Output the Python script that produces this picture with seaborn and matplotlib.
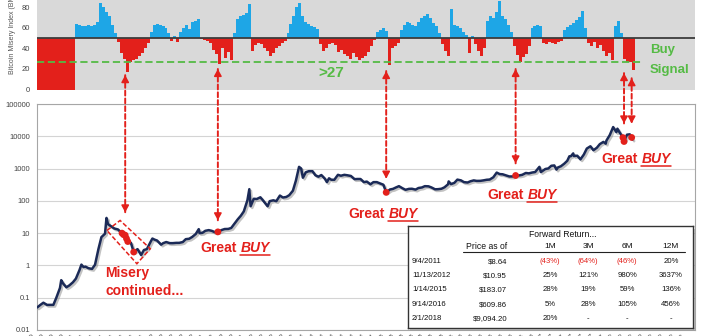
import numpy as np
import pandas as pd
import matplotlib
matplotlib.use("Agg")
import matplotlib.pyplot as plt
import matplotlib.dates as mdates
import matplotlib.patheffects as pe
from matplotlib.patches import ConnectionPatch, Polygon, Rectangle
from matplotlib.lines import Line2D
import seaborn as sns

# ---------------- data ----------------
bmi_pre_start = "2010-07-16"
bmi_pre_value = 0
bmi_first_date = "2011-01-12"
bmi_values = [
    64, 63, 62, 62, 63, 62, 63, 66, 84, 80,
    76, 72, 63, 55, 46, 36, 30, 17, 27, 29,
    30, 33, 36, 40, 45, 56, 63, 64, 63, 62,
    60, 55, 47, 52, 46, 56, 60, 63, 59, 66,
    67, 69, 49, 48, 47, 45, 39, 35, 25, 40,
    31, 37, 29, 55, 69, 72, 73, 75, 83, 38,
    43, 45, 44, 40, 38, 33, 36, 40, 42, 45,
    47, 55, 64, 72, 80, 84, 72, 66, 64, 62,
    61, 59, 44, 38, 40, 44, 45, 43, 37, 39,
    35, 33, 30, 36, 32, 29, 31, 33, 37, 42,
    48, 56, 58, 60, 57, 24, 40, 42, 45, 58,
    63, 66, 65, 63, 62, 66, 70, 72, 74, 70,
    65, 62, 55, 44, 38, 33, 79, 63, 62, 60,
    56, 53, 36, 52, 44, 38, 33, 40, 67, 72,
    70, 76, 86, 72, 69, 63, 56, 42, 34, 27,
    32, 35, 42, 60, 62, 63, 62, 45, 44, 46,
    45, 44, 46, 47, 58, 61, 63, 65, 68, 71,
    77, 60, 45, 42, 46, 40, 43, 38, 33, 36,
    29, 62, 67, 55, 30, 27, 27, 19,
]
bmi_threshold = 27
bmi_neutral = 50

price_dates = [
    "2010-07-17", "2010-08-01", "2010-08-15", "2010-09-01", "2010-09-15", "2010-10-01",
    "2010-10-15", "2010-11-01", "2010-11-07", "2010-11-15", "2010-12-01", "2010-12-15",
    "2011-01-01", "2011-01-15", "2011-02-01", "2011-02-10", "2011-02-20", "2011-03-01",
    "2011-03-15", "2011-04-01", "2011-04-15", "2011-05-01", "2011-05-15", "2011-06-01",
    "2011-06-08", "2011-06-15", "2011-07-01", "2011-07-15", "2011-08-01", "2011-08-20",
    "2011-08-27", "2011-09-04", "2011-09-10", "2011-09-16", "2011-10-01", "2011-10-14",
    "2011-11-01", "2011-11-18", "2011-12-01", "2011-12-15", "2012-01-01", "2012-01-10",
    "2012-01-20", "2012-02-01", "2012-02-20", "2012-03-01", "2012-03-15", "2012-04-01",
    "2012-04-15", "2012-05-01", "2012-05-15", "2012-06-01", "2012-06-15", "2012-07-01",
    "2012-07-15", "2012-08-01", "2012-08-15", "2012-08-19", "2012-09-01", "2012-09-15",
    "2012-10-01", "2012-10-15", "2012-11-01", "2012-11-13", "2012-12-01", "2012-12-15",
    "2013-01-01", "2013-01-15", "2013-02-01", "2013-02-15", "2013-03-01", "2013-03-15",
    "2013-04-01", "2013-04-10", "2013-04-16", "2013-05-01", "2013-05-15", "2013-06-01",
    "2013-06-15", "2013-07-05", "2013-07-15", "2013-08-01", "2013-08-15", "2013-09-01",
    "2013-09-15", "2013-10-01", "2013-10-15", "2013-11-01", "2013-11-15", "2013-11-30",
    "2013-12-10", "2013-12-18", "2014-01-01", "2014-01-15", "2014-02-01", "2014-02-15",
    "2014-03-01", "2014-03-15", "2014-04-01", "2014-04-10", "2014-04-20", "2014-05-01",
    "2014-05-15", "2014-06-01", "2014-06-15", "2014-07-01", "2014-07-15", "2014-08-01",
    "2014-08-18", "2014-09-01", "2014-09-15", "2014-10-01", "2014-10-15", "2014-11-01",
    "2014-11-15", "2014-12-01", "2014-12-15", "2015-01-01", "2015-01-14", "2015-02-01",
    "2015-02-15", "2015-03-01", "2015-03-15", "2015-04-01", "2015-04-15", "2015-05-01",
    "2015-05-15", "2015-06-01", "2015-06-15", "2015-07-01", "2015-07-15", "2015-08-01",
    "2015-08-15", "2015-09-01", "2015-09-15", "2015-10-01", "2015-10-15", "2015-11-01",
    "2015-11-04", "2015-11-15", "2015-12-01", "2015-12-15", "2016-01-01", "2016-01-15",
    "2016-02-01", "2016-02-15", "2016-03-01", "2016-03-15", "2016-04-01", "2016-04-15",
    "2016-05-01", "2016-05-15", "2016-06-01", "2016-06-17", "2016-07-01", "2016-07-15",
    "2016-08-01", "2016-08-15", "2016-09-01", "2016-09-14", "2016-10-01", "2016-10-15",
    "2016-11-01", "2016-11-15", "2016-12-01", "2016-12-15", "2017-01-04", "2017-01-11",
    "2017-02-01", "2017-02-15", "2017-03-01", "2017-03-15", "2017-03-25", "2017-04-01",
    "2017-04-15", "2017-05-01", "2017-05-15", "2017-05-25", "2017-06-01", "2017-06-12",
    "2017-06-15", "2017-07-01", "2017-07-16", "2017-08-01", "2017-08-15", "2017-09-01",
    "2017-09-15", "2017-10-01", "2017-10-15", "2017-11-01", "2017-11-12", "2017-11-15",
    "2017-12-01", "2017-12-17", "2018-01-01", "2018-01-06", "2018-01-15", "2018-02-01",
    "2018-02-06", "2018-02-20", "2018-03-05", "2018-03-14", "2018-03-18",
]
price_values = [
    0.05, 0.06, 0.07, 0.06, 0.06, 0.06,
    0.10, 0.20, 0.35, 0.28, 0.21, 0.24,
    0.30, 0.39, 0.72, 1.06, 0.89, 0.92,
    0.82, 0.78, 1.05, 3.2, 7.5, 9.6,
    29.6, 19.0, 16.0, 13.9, 13.0, 10.0,
    9.0, 8.64, 6.8, 5.5, 5.0, 2.6,
    3.2, 2.1, 3.0, 3.2, 5.3, 6.8,
    6.3, 5.9, 4.4, 4.9, 5.3, 4.9,
    4.9, 5.0, 5.0, 5.3, 6.5, 6.7,
    7.6, 9.4, 13.3, 10.0, 10.2, 11.8,
    12.4, 11.8, 10.6, 10.95, 12.5, 13.4,
    13.5, 14.5, 20.4, 27.0, 34.5, 47.0,
    104, 230, 68, 116, 114, 129,
    100, 68, 98, 104, 98, 146,
    127, 132, 150, 206, 420, 1130,
    1000, 520, 770, 830, 830, 620,
    560, 630, 480, 380, 500, 450,
    450, 640, 600, 640, 620, 590,
    470, 475, 475, 380, 395, 325,
    380, 380, 350, 315, 183.07, 225,
    235, 260, 285, 245, 220, 235,
    237, 223, 250, 260, 285, 282,
    260, 228, 230, 237, 262, 325,
    400, 330, 362, 455, 430, 380,
    370, 405, 430, 415, 417, 430,
    450, 457, 536, 750, 675, 665,
    610, 570, 570, 609.86, 614, 640,
    730, 710, 755, 780, 1130, 780,
    970, 1010, 1220, 1250, 930, 1080,
    1180, 1420, 1740, 2400, 2410, 2950,
    2450, 2500, 1930, 2720, 4170, 4900,
    3700, 4400, 5700, 6700, 5900, 7300,
    10900, 19300, 13400, 17200, 13600, 9094.2,
    6900, 11200, 11500, 9200, 7900,
]

dot_dates = ["2011-08-20", "2011-08-27", "2011-09-04", "2011-09-10", "2011-09-16",
             "2011-10-14", "2012-11-13", "2015-01-14", "2016-09-14", "2018-02-01",
             "2018-02-06", "2018-03-14"]
dot_prices = [10.0, 9.0, 8.64, 6.8, 5.5, 2.6, 10.95, 183.07, 609.86, 9094.2, 6900, 9200]

arrow_dates = ["2011-09-04", "2012-11-13", "2015-01-14", "2016-09-14", "2018-02-06", "2018-03-14"]
arrow_bmi_end = [14, 20, 18, 20, 16, 11]
arrow_price_end = [44, 25, 490, 1450, 25000, 25000]

misery_box_dates = ["2011-06-10", "2011-08-11", "2011-12-31", "2011-10-29"]
misery_box_prices = [12.1, 24.7, 3.29, 1.13]

price_ticks = [0.01, 0.1, 1, 10, 100, 1000, 10000, 100000]
price_tick_labels = ["0.01", "0.1", "1", "10", "100", "1000", "10000", "100000"]
bmi_ticks = [0, 20, 40, 60, 80]

tbl_dates = ["9/4/2011", "11/13/2012", "1/14/2015", "9/14/2016", "2/1/2018"]
tbl_prices = ["$8.64", "$10.95", "$183.07", "$609.86", "$9,094.20"]
tbl_1m = ["(43%)", "25%", "28%", "5%", "20%"]
tbl_3m = ["(64%)", "121%", "19%", "28%", "-"]
tbl_6m = ["(46%)", "980%", "59%", "105%", "-"]
tbl_12m = ["20%", "3637%", "136%", "456%", "-"]

# ---------------- style ----------------
sns.set_style("white")
plt.rcParams["font.family"] = ["Liberation Sans", "DejaVu Sans"]

RED = "#e3201b"
BLUE = "#1ea6e6"
GREEN = "#55bb45"
NAVY = "#1b2a57"
GREY_BG = "#d9d9d9"

W, H = 702, 336
fig = plt.figure(figsize=(W / 100, H / 100), dpi=100)


def fx(px):
    return px / W


def fy(py):
    return 1 - py / H


xmin, xmax = pd.Timestamp("2010-07-16"), pd.Timestamp("2019-01-06")

# ---------------- top panel: misery index ----------------
ax_top = fig.add_axes([fx(37), fy(89.5), fx(695) - fx(37), fy(0) - fy(89.5)])
ax_top.set_facecolor(GREY_BG)
bmi_dates = pd.date_range(bmi_first_date, periods=len(bmi_values), freq="14D")
x_b = [pd.Timestamp(bmi_pre_start)] + list(bmi_dates) + [bmi_dates[-1] + pd.Timedelta(days=14)]
y_b = np.array([bmi_pre_value] + bmi_values + [bmi_values[-1]], dtype=float)
ax_top.fill_between(x_b, bmi_neutral, np.minimum(y_b, bmi_neutral), step="post",
                    color=RED, lw=0, zorder=2)
ax_top.fill_between(x_b, bmi_neutral, np.maximum(y_b, bmi_neutral), step="post",
                    color=BLUE, lw=0, zorder=2)
ax_top.axhline(bmi_neutral, color="#3c3c3c", lw=1.3, zorder=3)
ax_top.axhline(bmi_threshold, xmin=0, xmax=(643 - 37) / 658, color=GREEN, lw=1.3,
               ls=(0, (4, 2)), zorder=3)
ax_top.set_xlim(xmin, xmax)
ax_top.set_ylim(0, 87.3)
ax_top.set_yticks(bmi_ticks)
ax_top.set_yticklabels([str(t) for t in bmi_ticks])
ax_top.set_xticks([])
ax_top.tick_params(axis="y", length=0, labelsize=5.5, labelcolor="#444444", pad=5)
for s in ax_top.spines.values():
    s.set_visible(False)
fig.text(fx(12), fy(33), "Bitcoin Misery Index (BMI)", rotation=90, fontsize=5,
         color="#555555", ha="center", va="center")

# ---------------- bottom panel: price ----------------
ax_bot = fig.add_axes([fx(37), fy(330), fx(695) - fx(37), fy(104) - fy(330)])
ax_bot.set_facecolor("white")
df_price = pd.DataFrame({"date": pd.to_datetime(price_dates), "price": price_values})
sns.lineplot(data=df_price, x="date", y="price", ax=ax_bot, color=NAVY, lw=1.8,
             estimator=None, zorder=4)
ax_bot.lines[-1].set_path_effects([
    pe.SimpleLineShadow(offset=(1.2, -1.2), shadow_color="#7a7a7a", alpha=0.45),
    pe.Normal()])
sns.scatterplot(x=pd.to_datetime(dot_dates), y=dot_prices, ax=ax_bot, color=RED,
                s=24, edgecolor="none", zorder=6)
ax_bot.set_yscale("log")
ax_bot.set_ylim(0.01, 100000)
ax_bot.set_xlim(xmin, xmax)
ax_bot.yaxis.set_major_locator(matplotlib.ticker.FixedLocator(price_ticks))
ax_bot.yaxis.set_minor_locator(matplotlib.ticker.NullLocator())
ax_bot.set_yticklabels(price_tick_labels)
ax_bot.grid(axis="y", color="#d4d4d4", lw=0.8)
ax_bot.set_axisbelow(True)
ax_bot.tick_params(axis="y", length=0, labelsize=5.5, labelcolor="#444444", pad=5)
xt = pd.date_range("2010-07-16", "2019-01-01", freq="47D")
ax_bot.set_xticks(xt)
ax_bot.set_xticklabels([d.strftime("%m/%d/%Y") for d in xt], rotation=45,
                       ha="right", fontsize=5, color="#555555")
ax_bot.tick_params(axis="x", length=0, pad=2)
ax_bot.set_xlabel("")
ax_bot.set_ylabel("")
for s in ax_bot.spines.values():
    s.set_color("#a6a6a6")
    s.set_linewidth(0.8)

# misery box
box_pts = [(mdates.date2num(pd.Timestamp(d)), p) for d, p in zip(misery_box_dates, misery_box_prices)]
ax_bot.add_patch(Polygon(box_pts, closed=True, fill=False, edgecolor=RED, lw=1.1,
                         ls=(0, (3, 1.5)), zorder=5))

# ---------------- arrows ----------------
for d, bv, pv in zip(arrow_dates, arrow_bmi_end, arrow_price_end):
    dn = mdates.date2num(pd.Timestamp(d))
    con = ConnectionPatch(xyA=(dn, bv), coordsA=ax_top.transData,
                          xyB=(dn, pv), coordsB=ax_bot.transData,
                          color=RED, lw=1.4, ls=(0, (2.5, 1.5)), zorder=7)
    fig.add_artist(con)
    ax_top.annotate("", xy=(dn, bv), xytext=(0, -5), textcoords="offset points",
                    arrowprops=dict(arrowstyle="-|>,head_width=0.22,head_length=0.4",
                                    color=RED, lw=1.2, shrinkA=0, shrinkB=0),
                    annotation_clip=False, zorder=8)
    ax_bot.annotate("", xy=(dn, pv), xytext=(0, 5), textcoords="offset points",
                    arrowprops=dict(arrowstyle="-|>,head_width=0.22,head_length=0.4",
                                    color=RED, lw=1.2, shrinkA=0, shrinkB=0),
                    annotation_clip=False, zorder=8)

# ---------------- texts ----------------
fig.text(fx(318), fy(77), ">27", color=GREEN, fontsize=11, fontweight="bold",
         ha="left", va="baseline")
fig.text(fx(650), fy(53), "Buy", color=GREEN, fontsize=9.5, fontweight="bold",
         ha="left", va="baseline")
fig.text(fx(650), fy(73), "Signal", color=GREEN, fontsize=9.5, fontweight="bold",
         ha="left", va="baseline")
fig.text(fx(105), fy(277), "Misery", color=RED, fontsize=10, fontweight="bold",
         ha="left", va="baseline")
fig.text(fx(105), fy(295), "continued...", color=RED, fontsize=10, fontweight="bold",
         ha="left", va="baseline")

renderer = fig.canvas.get_renderer()
great_buy_pos = [(200, 252), (348, 218), (487, 199), (601, 163)]
for lx, by in great_buy_pos:
    t1 = fig.text(fx(lx), fy(by), "Great", color=RED, fontsize=10, fontweight="bold",
                  ha="left", va="baseline")
    w1 = t1.get_window_extent(renderer).width
    bx = lx + w1 + 4
    t2 = fig.text(fx(bx), fy(by), "BUY", color=RED, fontsize=10, fontweight="bold",
                  fontstyle="italic", ha="left", va="baseline")
    w2 = t2.get_window_extent(renderer).width
    fig.add_artist(Line2D([fx(bx), fx(bx + w2)], [fy(by + 2.5), fy(by + 2.5)],
                          color=RED, lw=1.1))

# ---------------- table ----------------
fig.add_artist(Rectangle((fx(410), fy(331)), fx(693) - fx(408), fy(226) - fy(328),
                         transform=fig.transFigure, facecolor="#9a9a9a", alpha=0.5,
                         edgecolor="none", zorder=9))
tab = fig.add_axes([fx(408), fy(328), fx(693) - fx(408), fy(226) - fy(328)])
tab.set_zorder(10)
tab.set_facecolor("white")
tab.set_xlim(408, 693)
tab.set_ylim(328, 226)
tab.set_xticks([])
tab.set_yticks([])
for s in tab.spines.values():
    s.set_color("#333333")
    s.set_linewidth(1.0)
narrow = ["Liberation Sans Narrow", "Liberation Sans", "DejaVu Sans"]
tab.text(563, 235, "Forward Return...", ha="center", va="center", fontsize=6.2,
         family=narrow, color="#111111")
tab.text(507, 247, "Price as of", ha="right", va="center", fontsize=6.2,
         family=narrow, color="#111111")
col_x = [550, 588, 627, 671]
for cx, lab in zip(col_x, ["1M", "3M", "6M", "12M"]):
    tab.text(cx, 247, lab, ha="center", va="center", fontsize=6.0, family=narrow,
             color="#111111")
tab.plot([463, 685], [252, 252], color="#222222", lw=0.8)
row_y = [262, 276, 290, 305, 319]
for i, ry in enumerate(row_y):
    tab.text(412, ry, tbl_dates[i], ha="left", va="center", fontsize=5.6,
             family=narrow, color="#111111")
    tab.text(507, ry, tbl_prices[i], ha="right", va="center", fontsize=5.6,
             family=narrow, color="#111111")
    for cx, col in zip(col_x, [tbl_1m, tbl_3m, tbl_6m, tbl_12m]):
        v = col[i]
        tab.text(cx, ry, v, ha="center", va="center", fontsize=5.6, family=narrow,
                 color=RED if v.startswith("(") else "#111111")

fig.savefig("out.png", dpi=100)
